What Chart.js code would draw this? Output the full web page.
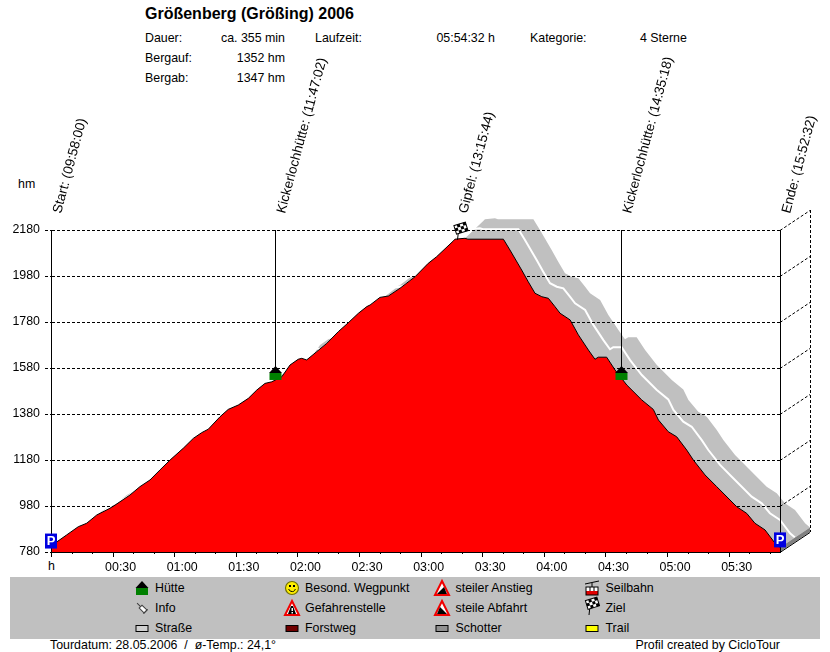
<!DOCTYPE html>
<html lang="de">
<head>
<meta charset="utf-8">
<title>Größenberg (Größing) 2006</title>
<script src="https://cdn.jsdelivr.net/npm/chart.js@4"></script>
<style>
  body { margin: 0; background: #fff; }
  #page { position: relative; width: 830px; height: 652px; overflow: hidden; font: 12.4px "Liberation Sans", Arial, sans-serif; color: #000; }
  #page span { position: absolute; white-space: nowrap; line-height: 14px; }
  #band { position: absolute; left: 10px; top: 577px; width: 810px; height: 62px; background: #c0c0c0; }
  #title { font-weight: bold; font-size: 16px; line-height: 18px !important; }
  canvas { position: absolute; left: 0; top: 0; }
</style>
</head>
<body>
<div id="page">
  <div id="band"></div>
  <span id="title" style="left:145px; top:5px;">Größenberg (Größing) 2006</span>
  <span style="left:145px; top:31px;">Dauer:</span>
  <span style="right:545px; top:31px;">ca. 355 min</span>
  <span style="left:315px; top:31px;">Laufzeit:</span>
  <span style="right:335px; top:31px;">05:54:32 h</span>
  <span style="left:530px; top:31px;">Kategorie:</span>
  <span style="left:640px; top:31px;">4 Sterne</span>
  <span style="left:145px; top:51px;">Bergauf:</span>
  <span style="right:545px; top:51px;">1352 hm</span>
  <span style="left:145px; top:71px;">Bergab:</span>
  <span style="right:545px; top:71px;">1347 hm</span>
  <span style="left:18px; top:177px;">hm</span>
  <span style="left:48px; top:559px;">h</span>
  <span style="left:50px; top:638px;">Tourdatum: 28.05.2006&nbsp; /&nbsp; ø-Temp.: 24,1°</span>
  <span style="right:50px; top:638px;">Profil created by CicloTour</span>
  <div id="legend"></div>
  <canvas id="profileChart" width="830" height="652"></canvas>
</div>

<script>
// ===== DATA =====
const profileMinutes = [0, 1.9, 7.6, 13.3, 17.4, 22.3, 28.7, 31.2, 38.5, 43.3, 48.2, 53.1, 58, 64.4, 69.3, 73.4, 76.6,
  82.3, 86.3, 91.2, 96.1, 100.2, 104.2, 107.5, 112.4, 116.4, 120.4, 122.1, 124.5, 129.4, 134.3, 139.9, 144.8, 149.7,
  153.8, 155.4, 160.2, 164.3, 170, 177.3, 183.7, 187.8, 196, 196.7, 201.6, 203, 220.3, 223.5, 229.2, 232.4, 235.7,
  239, 242.2, 245.4, 247.9, 252.8, 256.8, 261.7, 264.9, 266.5, 270.6, 274.7, 280.4, 287.7, 293.3, 295.8, 300.6,
  304.7, 309.6, 312.8, 318.5, 324.2, 333.9, 338.8, 342.8, 347.7, 352.6, 355];
const profileHeights = [795, 818, 854, 890, 905, 941, 970, 984, 1028, 1064, 1093, 1137, 1180, 1231, 1274, 1299, 1314,
  1368, 1400, 1419, 1448, 1484, 1513, 1520, 1542, 1593, 1618, 1622, 1615, 1651, 1687, 1738, 1777, 1818,
  1847, 1854, 1887, 1893, 1927, 1977, 2035, 2064, 2133, 2140, 2144, 2140, 2140, 2093, 2006, 1955, 1905,
  1890, 1883, 1847, 1818, 1789, 1724, 1658, 1618, 1627, 1627, 1571, 1506, 1441, 1400, 1354, 1303,
  1281, 1223, 1180, 1115, 1064, 977, 948, 905, 876, 818, 800];

const waypointNames = ['Start', 'Kickerlochhütte', 'Gipfel', 'Kickerlochhütte', 'Ende'];
const waypointClock = ['09:58:00', '11:47:02', '13:15:44', '14:35:18', '15:52:32'];
const waypointMinutes = [0, 109, 197.7, 277.8, 355];
const waypointHeights = [795, 1528, 2137, 1528, 800];
const waypointKinds = ['park', 'hut', 'flag', 'hut', 'park'];

const legendNames = [
  ['Hütte', 'Info', 'Straße'],
  ['Besond. Wegpunkt', 'Gefahrenstelle', 'Forstweg'],
  ['steiler Anstieg', 'steile Abfahrt', 'Schotter'],
  ['Seilbahn', 'Ziel', 'Trail']
];


// ===== LEGEND TEXT =====
const legendTextX = [155, 305, 455.5, 605.5];
const legendRowY = [588, 608, 628];

legendNames.forEach((column, c) => {
  column.forEach((name, r) => {
    const span = document.createElement('span');
    span.textContent = name;
    span.style.left = legendTextX[c] + 'px';
    span.style.top = (legendRowY[r] - 7) + 'px';
    document.getElementById('legend').appendChild(span);
  });
});


// ===== ICONS =====
function triangle(ctx, x, y, half, height) {
  ctx.beginPath();
  ctx.moveTo(x, y - height);
  ctx.lineTo(x + half, y);
  ctx.lineTo(x - half, y);
  ctx.closePath();
}

function drawHut(ctx, x, y) {
  ctx.fillStyle = '#008000';
  ctx.fillRect(x - 6, y - 7, 12, 7);
  ctx.fillStyle = '#000';
  triangle(ctx, x, y - 7, 6.5, 7);
  ctx.fill();
}

function drawPark(ctx, x, y) {
  ctx.fillStyle = '#0000e0';
  ctx.fillRect(x - 6.5, y - 15, 12, 15);
  ctx.fillStyle = '#fff';
  ctx.font = 'bold 13px "Liberation Sans"';
  ctx.textAlign = 'center';
  ctx.textBaseline = 'middle';
  ctx.fillText('P', x - 0.5, y - 7);
}

function drawFlag(ctx, x, y) {
  ctx.strokeStyle = '#000';
  ctx.lineWidth = 1;
  ctx.beginPath();
  ctx.moveTo(x, y);
  ctx.lineTo(x + 1, y - 9);
  ctx.stroke();
  ctx.save();
  ctx.translate(x, y - 6);
  ctx.rotate(-0.3);
  ctx.fillStyle = '#fff';
  ctx.fillRect(-1, -9, 12, 9);
  ctx.fillStyle = '#000';
  for (let i = 0; i < 4; i++) {
    for (let j = 0; j < 3; j++) {
      if ((i + j) % 2) ctx.fillRect(-1 + i * 3, -9 + j * 3, 3, 3);
    }
  }
  ctx.strokeRect(-1, -9, 12, 9);
  ctx.restore();
}

function drawPin(ctx, x, y) {
  ctx.save();
  ctx.translate(x, y);
  ctx.rotate(Math.PI / 4);
  ctx.strokeStyle = '#404040';
  ctx.fillStyle = '#fff';
  ctx.lineWidth = 1;
  ctx.fillRect(-2, -2, 7, 4);
  ctx.strokeRect(-2, -2, 7, 4);
  ctx.beginPath();
  ctx.moveTo(-2, 0);
  ctx.lineTo(-7, 0);
  ctx.moveTo(5, -3);
  ctx.lineTo(5, 3);
  ctx.stroke();
  ctx.restore();
}

function drawSmiley(ctx, x, y) {
  ctx.fillStyle = '#ffee00';
  ctx.strokeStyle = '#707000';
  ctx.lineWidth = 1.2;
  ctx.beginPath();
  ctx.arc(x, y, 6.5, 0, Math.PI * 2);
  ctx.fill();
  ctx.stroke();
  ctx.fillStyle = '#000';
  ctx.fillRect(x - 3, y - 3, 2, 2);
  ctx.fillRect(x + 1, y - 3, 2, 2);
  ctx.strokeStyle = '#000';
  ctx.lineWidth = 1;
  ctx.beginPath();
  ctx.arc(x, y, 3.5, 0.3, Math.PI - 0.3);
  ctx.stroke();
}

function drawWarning(ctx, x, y, inner) {
  ctx.fillStyle = '#fff';
  ctx.strokeStyle = '#f00000';
  ctx.lineWidth = 2;
  triangle(ctx, x, y, 7, 14);
  ctx.fill();
  ctx.stroke();
  ctx.fillStyle = '#000';
  ctx.beginPath();
  inner.forEach(([dx, dy], i) => (i ? ctx.lineTo(x + dx, y + dy) : ctx.moveTo(x + dx, y + dy)));
  ctx.closePath();
  ctx.fill();
}

function drawDanger(ctx, x, y) {
  drawWarning(ctx, x, y, [[-4, -1], [-1, -9], [1, -9], [4, -1]]);
  ctx.fillStyle = '#fff';
  ctx.fillRect(x - 0.5, y - 7, 1.5, 3);
  ctx.fillRect(x - 0.5, y - 3, 1.5, 1.5);
}

function drawCableCar(ctx, x, y) {
  ctx.strokeStyle = '#000';
  ctx.lineWidth = 1;
  ctx.beginPath();
  ctx.moveTo(x - 7, y - 11);
  ctx.lineTo(x + 7, y - 14);
  ctx.moveTo(x, y - 12);
  ctx.lineTo(x, y - 8);
  ctx.stroke();
  ctx.fillStyle = '#fff';
  ctx.fillRect(x - 6, y - 8, 12, 4);
  ctx.fillStyle = '#e00000';
  ctx.fillRect(x - 6, y - 4, 12, 4);
  ctx.strokeRect(x - 6, y - 8, 12, 8);
  ctx.beginPath();
  ctx.moveTo(x - 2, y - 8);
  ctx.lineTo(x - 2, y - 4);
  ctx.moveTo(x + 2, y - 8);
  ctx.lineTo(x + 2, y - 4);
  ctx.stroke();
}

function drawSwatch(ctx, x, y, color) {
  ctx.fillStyle = color;
  ctx.fillRect(x - 6, y - 2.5, 12, 6);
  ctx.strokeStyle = '#000';
  ctx.lineWidth = 1;
  ctx.strokeRect(x - 6, y - 2.5, 12, 6);
}

const iconDrawers = { hut: drawHut, park: drawPark, flag: drawFlag };


// ===== 3D RIBBON AND BACK WALL =====
const depthX = 30;
const depthY = -20;

function profilePixels(chart) {
  const xs = chart.scales.x;
  const ys = chart.scales.y;
  return profileMinutes.map((m, i) => ({ x: xs.getPixelForValue(m), y: ys.getPixelForValue(profileHeights[i]) }));
}

const ribbonPlugin = {
  id: 'ribbon',
  beforeDraw(chart) {
    const ctx = chart.ctx;
    const pts = profilePixels(chart);
    const last = pts[pts.length - 1];
    const ys = chart.scales.y;
    const bottom = ys.bottom;
    const right = chart.scales.x.right;

    ctx.save();

    // grey surface
    ctx.fillStyle = '#c0c0c0';
    ctx.beginPath();
    pts.forEach((p, i) => (i ? ctx.lineTo(p.x, p.y) : ctx.moveTo(p.x, p.y)));
    pts.slice().reverse().forEach(p => ctx.lineTo(p.x + depthX, p.y + depthY));
    ctx.closePath();
    ctx.fill();

    // white middle line
    ctx.strokeStyle = '#fff';
    ctx.lineWidth = 2;
    ctx.beginPath();
    pts.forEach((p, i) => {
      const px = p.x + depthX / 2;
      const py = p.y + depthY / 2;
      if (i) ctx.lineTo(px, py); else ctx.moveTo(px, py);
    });
    ctx.stroke();

    // end cap
    ctx.fillStyle = '#808080';
    ctx.beginPath();
    ctx.moveTo(right, bottom);
    ctx.lineTo(right + depthX, bottom + depthY);
    ctx.lineTo(last.x + depthX, last.y + depthY);
    ctx.lineTo(last.x, last.y);
    ctx.closePath();
    ctx.fill();

    // floor edge
    ctx.strokeStyle = '#000';
    ctx.lineWidth = 1;
    ctx.beginPath();
    ctx.moveTo(right, bottom + 0.5);
    ctx.lineTo(right + depthX, bottom + depthY + 0.5);
    ctx.stroke();

    // dashed depth lines and rear edge
    ctx.setLineDash([3, 2]);
    ys.ticks.forEach(t => {
      const y = Math.round(ys.getPixelForValue(t.value)) + 0.5;
      if (t.value === ys.min) return;
      ctx.beginPath();
      ctx.moveTo(right, y);
      ctx.lineTo(right + depthX, y + depthY);
      ctx.stroke();
    });
    ctx.beginPath();
    ctx.moveTo(right + depthX + 0.5, ys.top + depthY);
    ctx.lineTo(right + depthX + 0.5, bottom + depthY);
    ctx.stroke();

    ctx.restore();
  },

  afterDatasetsDraw(chart) {
    const ctx = chart.ctx;
    const xs = chart.scales.x;
    const ys = chart.scales.y;

    ctx.save();

    // ticks below the axis
    ctx.strokeStyle = '#000';
    ctx.lineWidth = 1;
    xs.ticks.forEach(t => {
      const x = Math.round(xs.getPixelForValue(t.value)) + 0.5;
      ctx.beginPath();
      ctx.moveTo(x, ys.bottom);
      ctx.lineTo(x, ys.bottom + (t.value % 30 === 0 ? 5 : 2));
      ctx.stroke();
    });

    // waypoints: line, icon, slanted label
    waypointNames.forEach((name, i) => {
      const x = xs.getPixelForValue(waypointMinutes[i]);
      const y = ys.getPixelForValue(waypointHeights[i]);
      const kind = waypointKinds[i];
      const lineX = Math.round(x) + 0.5;

      ctx.strokeStyle = '#000';
      ctx.lineWidth = 1;
      ctx.beginPath();
      ctx.moveTo(lineX, ys.top);
      ctx.lineTo(lineX, kind === 'park' ? ys.bottom : y - 10);
      ctx.stroke();

      iconDrawers[kind](ctx, lineX, y);

      ctx.save();
      ctx.translate(lineX + 9.5, 214);
      ctx.rotate(-75 * Math.PI / 180);
      ctx.fillStyle = '#000';
      ctx.font = '13.5px "Liberation Sans"';
      ctx.textAlign = 'left';
      ctx.textBaseline = 'alphabetic';
      ctx.fillText(name + ': (' + waypointClock[i] + ')', 0, 0);
      ctx.restore();
    });

    // legend icons
    const [row1, row2, row3] = legendRowY;
    drawHut(ctx, 142, row1 + 7);
    drawPin(ctx, 142, row2);
    drawSwatch(ctx, 142, row3, '#d0d0d0');
    drawSmiley(ctx, 292, row1);
    drawDanger(ctx, 292, row2 + 7);
    drawSwatch(ctx, 292, row3, '#700000');
    drawWarning(ctx, 442, row1 + 7, [[-5, -1], [5, -1], [2, -8]]);
    drawWarning(ctx, 442, row2 + 7, [[-5, -1], [5, -1], [-2, -8]]);
    drawSwatch(ctx, 442, row3, '#909090');
    drawCableCar(ctx, 592, row1 + 7);
    drawFlag(ctx, 589, row2 + 7);
    drawSwatch(ctx, 592, row3, '#ffff00');

    ctx.restore();
  }
};


// ===== HELPERS =====
function formatMinutes(value) {
  if (value === 0 || value % 30 !== 0) return '';
  const hours = String(Math.floor(value / 60)).padStart(2, '0');
  const minutes = String(value % 60).padStart(2, '0');
  return hours + ':' + minutes;
}


// ===== PROFILE CHART =====
Chart.defaults.font.family = '"Liberation Sans", Arial, sans-serif';
Chart.defaults.font.size = 12.4;
Chart.defaults.color = '#000';

new Chart(document.getElementById('profileChart').getContext('2d'), {
  type: 'line',
  data: {
    datasets: [{
      label: 'Höhe',
      data: profileMinutes.map((m, i) => ({ x: m, y: profileHeights[i] })),
      borderColor: '#000',
      backgroundColor: '#ff0000',
      borderWidth: 1,
      pointRadius: 0,
      tension: 0,
      fill: 'start'
    }]
  },
  plugins: [ribbonPlugin],
  options: {
    responsive: false,
    animation: false,
    devicePixelRatio: 1,
    layout: { padding: { top: 230, right: 50 } },
    plugins: {
      legend: { display: false },
      title: { display: false },
      tooltip: { enabled: false }
    },
    scales: {
      x: {
        type: 'linear',
        min: 0,
        max: 355,
        z: 1,
        afterFit(axis) { axis.height = 100; },
        grid: { display: false, drawTicks: false },
        border: { color: '#000', width: 1 },
        ticks: {
          stepSize: 10,
          autoSkip: false,
          includeBounds: false,
          maxRotation: 0,
          padding: 8,
          labelOffset: 8,
          callback: formatMinutes
        }
      },
      y: {
        min: 780,
        max: 2180,
        afterFit(axis) { axis.width = 51; },
        grid: { color: '#000', lineWidth: 1, tickLength: 6, tickBorderDash: [3, 2], tickColor: '#000' },
        border: { color: '#000', width: 1, dash: [3, 2] },
        ticks: { stepSize: 200, padding: 5, callback: value => String(value) }
      }
    }
  }
});
</script>
</body>
</html>
